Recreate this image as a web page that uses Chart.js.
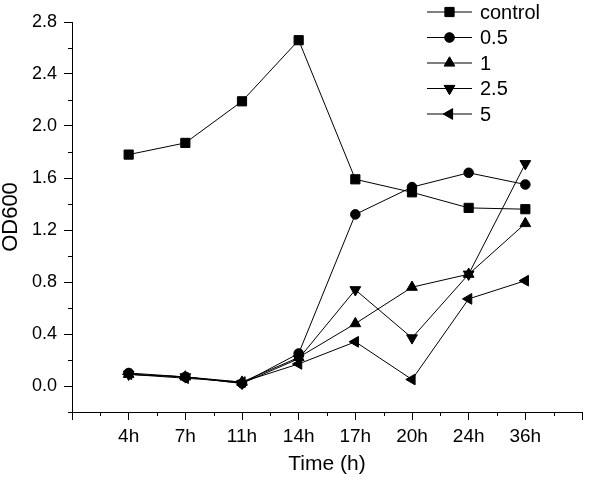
<!DOCTYPE html>
<html>
<head>
<meta charset="utf-8">
<script src="https://cdn.jsdelivr.net/npm/chart.js@4/dist/chart.umd.min.js"></script>
<style>
  html, body { margin: 0; padding: 0; background: #fff; }
  #wrap { width: 600px; height: 477px; }
</style>
</head>
<body>
<div id="wrap"><canvas id="growth"></canvas></div>
<script>
// time points (x axis categories)
var times = ['4h', '7h', '11h', '14h', '17h', '20h', '24h', '36h'];

// OD600 per treatment
var control = [1.78, 1.87, 2.19, 2.66, 1.59, 1.49, 1.37, 1.36];
var conc05 = [0.10, 0.07, 0.02, 0.25, 1.32, 1.53, 1.64, 1.55];
var conc1 = [0.09, 0.07, 0.03, 0.22, 0.48, 0.76, 0.86, 1.25];
var conc25 = [0.09, 0.07, 0.02, 0.21, 0.74, 0.37, 0.86, 1.71];
var conc5 = [0.09, 0.06, 0.03, 0.17, 0.34, 0.05, 0.67, 0.81];

var seriesNames = ['control', '0.5', '1', '2.5', '5'];

var FONT = '"Liberation Sans", Arial, Helvetica, sans-serif';

function toPoints(vals) {
  return vals.map(function (v, i) { return {x: i + 1, y: v}; });
}

function makeSet(label, vals, style, rot, r) {
  return {
    label: label,
    data: toPoints(vals),
    borderColor: '#000',
    backgroundColor: '#000',
    borderWidth: 1,
    pointStyle: style,
    rotation: rot,
    pointRadius: r,
    pointHoverRadius: r,
    pointBackgroundColor: '#000',
    pointBorderColor: '#000',
    pointBorderWidth: 1,
    tension: 0
  };
}

var datasets = [
  makeSet(seriesNames[0], control, 'rect', 0, 6.5),
  makeSet(seriesNames[1], conc05, 'circle', 0, 4.8),
  makeSet(seriesNames[2], conc1, 'triangle', 0, 6.2),
  makeSet(seriesNames[3], conc25, 'triangle', 180, 6.2),
  makeSet(seriesNames[4], conc5, 'triangle', 270, 6.2)
];

function xMajor(v) { return Math.abs(v - Math.round(v)) < 1e-6; }
function yMajor(v) { return Math.round(v * 10) % 4 === 0; }

// short minor ticks, drawn at the scale's own tick positions
var minorTicks = {
  id: 'minorTicks',
  afterDraw: function (chart) {
    var ctx = chart.ctx;
    var xs = chart.scales.x, ys = chart.scales.y;
    ctx.save();
    ctx.strokeStyle = '#000';
    ctx.lineWidth = 1;
    ctx.beginPath();
    xs.ticks.forEach(function (t) {
      if (xMajor(t.value)) return;
      var px = Math.round(xs.getPixelForValue(t.value)) + 0.5;
      ctx.moveTo(px, xs.top);
      ctx.lineTo(px, xs.top + 4);
    });
    ys.ticks.forEach(function (t) {
      if (yMajor(t.value)) return;
      var py = Math.round(ys.getPixelForValue(t.value)) + 0.5;
      ctx.moveTo(ys.right, py);
      ctx.lineTo(ys.right - 4, py);
    });
    ctx.stroke();
    ctx.restore();
  }
};

// legend with a line through each marker, top right
var lineLegend = {
  id: 'lineLegend',
  afterDraw: function (chart) {
    var ctx = chart.ctx;
    var area = chart.chartArea;
    var x0 = area.right - 155;
    var y0 = area.top - 10;
    ctx.save();
    ctx.font = '20px ' + FONT;
    ctx.textBaseline = 'middle';
    ctx.fillStyle = '#000';
    chart.data.datasets.forEach(function (ds, i) {
      var y = y0 + i * 25.5;
      ctx.strokeStyle = '#000';
      ctx.lineWidth = 1;
      ctx.beginPath();
      ctx.moveTo(x0, y);
      ctx.lineTo(x0 + 45, y);
      ctx.stroke();
      Chart.helpers.drawPoint(ctx, {
        pointStyle: ds.pointStyle,
        rotation: ds.rotation,
        radius: ds.pointRadius,
        borderWidth: 1
      }, x0 + 22.5, y);
      ctx.fillStyle = '#000';
      ctx.fill();
      ctx.fillText(ds.label, x0 + 53, y + 1);
    });
    ctx.restore();
  }
};

new Chart(document.getElementById('growth'), {
  type: 'line',
  data: {datasets: datasets},
  options: {
    responsive: true,
    maintainAspectRatio: false,
    animation: false,
    layout: {padding: {top: 22, right: 18, left: 0, bottom: 0}},
    plugins: {
      legend: {display: false},
      tooltip: {enabled: false}
    },
    scales: {
      x: {
        type: 'linear',
        min: 0,
        max: 9,
        afterFit: function (s) { s.height = 65; },
        border: {display: true, color: '#000', width: 1},
        grid: {
          drawOnChartArea: false,
          drawTicks: true,
          tickLength: 8,
          tickColor: function (c) { return xMajor(c.tick.value) ? '#000' : 'rgba(0,0,0,0)'; }
        },
        ticks: {
          stepSize: 0.5,
          autoSkip: false,
          maxRotation: 0,
          padding: 5,
          color: '#000',
          font: {family: FONT, size: 19},
          callback: function (v) {
            var i = Math.round(v);
            if (!xMajor(v) || i < 1 || i > times.length) return '';
            return times[i - 1];
          }
        },
        title: {
          display: true,
          text: 'Time (h)',
          color: '#000',
          font: {family: FONT, size: 21},
          padding: {top: 0, bottom: 0}
        }
      },
      y: {
        min: -0.2,
        max: 2.8,
        afterFit: function (s) { s.width = 72; },
        border: {display: true, color: '#000', width: 1},
        grid: {
          drawOnChartArea: false,
          drawTicks: true,
          tickLength: 8,
          tickColor: function (c) { return yMajor(c.tick.value) ? '#000' : 'rgba(0,0,0,0)'; }
        },
        ticks: {
          stepSize: 0.2,
          autoSkip: false,
          padding: 7,
          color: '#000',
          font: {family: FONT, size: 18},
          callback: function (v) {
            if (!yMajor(v) || v < -0.01) return '';
            return v.toFixed(1);
          }
        },
        title: {
          display: true,
          text: 'OD600',
          color: '#000',
          font: {family: FONT, size: 22, lineHeight: 1},
          padding: 0
        }
      }
    }
  },
  plugins: [minorTicks, lineLegend]
});
</script>
</body>
</html>
